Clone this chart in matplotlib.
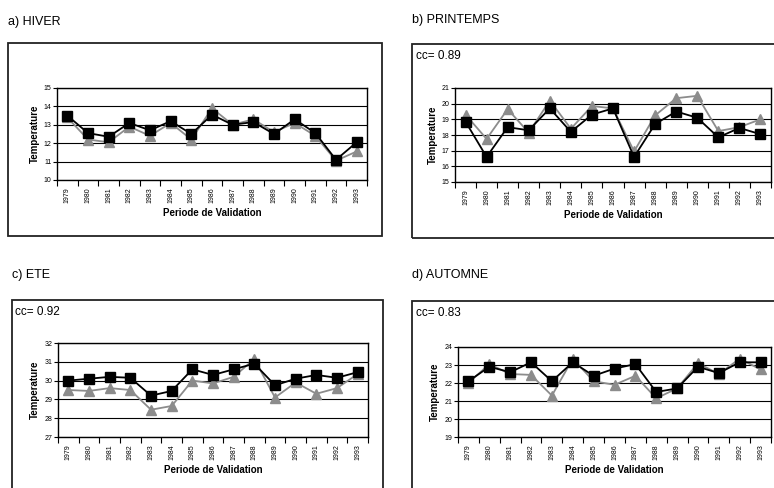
import numpy as np
import matplotlib
matplotlib.use("Agg")
import matplotlib.pyplot as plt
from matplotlib.patches import Rectangle

plt.rcParams['font.family'] = ['Liberation Sans', 'DejaVu Sans']

years = [str(y) for y in range(1979, 1994)]

hiver_obs = [13.5, 12.55, 12.35, 13.1, 12.7, 13.2, 12.5, 13.55, 13.0, 13.15, 12.5, 13.3, 12.55, 11.1, 12.05]
hiver_sim = [13.4, 12.2, 12.05, 12.9, 12.4, 13.1, 12.2, 13.9, 13.0, 13.3, 12.6, 13.1, 12.4, 11.05, 11.55]

print_obs = [18.85, 16.6, 18.5, 18.3, 19.7, 18.2, 19.3, 19.7, 16.6, 18.7, 19.5, 19.1, 17.85, 18.45, 18.05]
print_sim = [19.3, 17.75, 19.65, 18.15, 20.2, 18.4, 19.85, 19.7, 16.95, 19.25, 20.35, 20.5, 18.25, 18.5, 19.0]

ete_obs = [30.0, 30.1, 30.2, 30.15, 29.2, 29.45, 30.6, 30.3, 30.6, 30.9, 29.75, 30.1, 30.3, 30.15, 30.45]
ete_sim = [29.5, 29.45, 29.6, 29.5, 28.45, 28.65, 30.0, 29.85, 30.2, 31.15, 29.1, 29.9, 29.3, 29.6, 30.35]

aut_obs = [22.1, 22.9, 22.6, 23.15, 22.1, 23.15, 22.4, 22.8, 23.05, 21.5, 21.7, 22.9, 22.55, 23.15, 23.15]
aut_sim = [22.0, 23.05, 22.5, 22.45, 21.3, 23.35, 22.1, 21.9, 22.4, 21.15, 21.7, 23.1, 22.5, 23.35, 22.75]

W, H = 774, 488
fig = plt.figure(figsize=(W / 100, H / 100), dpi=100)

def px(x0, y0, x1, y1):
    # pixel box -> figure fraction [left, bottom, width, height]
    return [x0 / W, 1 - y1 / H, (x1 - x0) / W, (y1 - y0) / H]

def frame(x0, y0, x1, y1):
    l, b, w, h = px(x0, y0, x1, y1)
    fig.patches.append(Rectangle((l, b), w, h, transform=fig.transFigure,
                                 fill=False, edgecolor='#222222', linewidth=1.3))

def panel(box, obs, sim, ylim):
    ax = fig.add_axes(px(*box))
    x = np.arange(len(years))
    ax.plot(x, sim, color='#8c8c8c', lw=1.3, marker='^', ms=7, mec='#8c8c8c', zorder=3)
    ax.plot(x, obs, color='black', lw=1.3, marker='s', ms=7, zorder=4)
    ax.set_xlim(-0.5, len(years) - 0.5)
    ax.set_ylim(*ylim)
    ax.set_yticks(range(ylim[0], ylim[1] + 1))
    ax.yaxis.grid(True, color='black', lw=0.8)
    ax.set_axisbelow(True)
    ax.set_xticks(x)
    ax.set_xticklabels(years, rotation=90, fontsize=5)
    ax.set_xticks(np.arange(-0.5, len(years)), minor=True)
    ax.tick_params(axis='x', which='major', length=0, pad=5)
    ax.tick_params(axis='x', which='minor', length=4, width=0.8)
    ax.tick_params(axis='y', labelsize=5, length=3, width=0.8, pad=1)
    ax.set_xlabel('Periode de Validation', fontsize=7, fontweight='bold', labelpad=4)
    ax.set_ylabel('Temperature', fontsize=7, fontweight='bold', labelpad=3)
    for s in ax.spines.values():
        s.set_linewidth(1.0)
    return ax

# frames
frame(8, 43, 382, 236)
frame(412, 44, 780, 238)
frame(12, 300, 383, 495)
frame(412, 301, 780, 495)

fig.text(8 / W, 1 - 22 / H, 'a) HIVER', fontsize=9, va='center')
fig.text(412 / W, 1 - 20 / H, 'b) PRINTEMPS', fontsize=9, va='center')
fig.text(12 / W, 1 - 275 / H, 'c) ETE', fontsize=9, va='center')
fig.text(412 / W, 1 - 275 / H, 'd) AUTOMNE', fontsize=9, va='center')

fig.text(416 / W, 1 - 56 / H, 'cc= 0.89', fontsize=8.5, va='center')
fig.text(15 / W, 1 - 312 / H, 'cc= 0.92', fontsize=8.5, va='center')
fig.text(416 / W, 1 - 313 / H, 'cc= 0.83', fontsize=8.5, va='center')

panel((57, 88, 367, 180), hiver_obs, hiver_sim, (10, 15))
panel((455, 88, 771, 182), print_obs, print_sim, (15, 21))
panel((58, 343, 368, 437), ete_obs, ete_sim, (27, 32))
panel((458, 347, 771, 437), aut_obs, aut_sim, (19, 24))

fig.savefig('out.png', dpi=100)
